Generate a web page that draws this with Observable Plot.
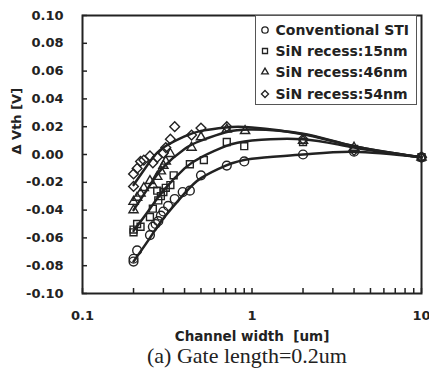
<!DOCTYPE html>
<html>
<head>
<meta charset="utf-8">
<script src="https://cdn.jsdelivr.net/npm/d3@7"></script>
<script src="https://cdn.jsdelivr.net/npm/@observablehq/plot@0.6"></script>
<style>
  body { margin: 0; background: #fff; }
  #wrap { position: relative; width: 429px; height: 372px; overflow: hidden; }
  #legend { position: absolute; left: 255px; top: 15px; width: 162px; height: 90px; box-sizing: border-box;
    border: 1.5px solid #555; background: #fff; padding-top: 3px;
    font: bold 14px "DejaVu Sans", sans-serif; color: #222; }
  .row { display: flex; align-items: center; height: 21.3px; white-space: nowrap; }
  .row svg { margin-left: 2.5px; margin-right: 5px; }
  #caption { position: absolute; left: 247px; top: 344px; transform: translateX(-50%);
    font: 22px "Liberation Serif", "Times New Roman", serif; line-height: 24px; color: #222; white-space: nowrap; }
</style>
</head>
<body>
<div id="wrap">
  <div id="chart"></div>
  <div id="legend"></div>
  <div id="caption">(a) Gate length=0.2um</div>
</div>
<script>
// Series names and their marker symbols
const seriesNames = ["Conventional STI", "SiN recess:15nm", "SiN recess:46nm", "SiN recess:54nm"];
const seriesSymbols = ["circle", "square2", "triangle2", "diamond2"];

// Axis titles
const xTitle = "Channel width\u00a0 [um]";
const yTitle = "\u0394 Vth [V]";

// Measured points (channel width in um, delta Vth in V)
const stiW = [0.2, 0.2, 0.21, 0.25, 0.26, 0.27, 0.28, 0.29, 0.3, 0.32, 0.35, 0.39, 0.43, 0.5, 0.71, 0.9, 2, 4, 10];
const stiV = [-0.077, -0.075, -0.069, -0.058, -0.052, -0.050, -0.048, -0.044, -0.041, -0.037, -0.032, -0.027, -0.026, -0.015, -0.008, -0.005, 0.000, 0.002, -0.002];

const sq15W = [0.2, 0.2, 0.21, 0.22, 0.25, 0.26, 0.276, 0.28, 0.29, 0.3, 0.31, 0.33, 0.345, 0.43, 0.52, 0.71, 0.9, 2, 4, 10];
const sq15V = [-0.056, -0.054, -0.050, -0.052, -0.045, -0.039, -0.026, -0.033, -0.030, -0.027, -0.024, -0.022, -0.015, -0.007, -0.004, 0.009, 0.006, 0.009, 0.004, -0.002];

const tri46W = [0.2, 0.2, 0.21, 0.22, 0.23, 0.25, 0.26, 0.276, 0.29, 0.3, 0.31, 0.33, 0.44, 0.5, 0.71, 0.91, 2, 4, 10];
const tri46V = [-0.040, -0.034, -0.031, -0.028, -0.024, -0.019, -0.022, -0.016, -0.012, -0.008, -0.005, 0.0005, 0.005, 0.0125, 0.018, 0.017, 0.010, 0.005, -0.002];

const dia54W = [0.2, 0.2, 0.21, 0.22, 0.23, 0.25, 0.26, 0.276, 0.3, 0.31, 0.33, 0.35, 0.44, 0.5, 0.71, 2, 4, 10];
const dia54V = [-0.023, -0.014, -0.010, -0.005, -0.004, -0.001, -0.006, -0.002, 0.001, 0.005, 0.011, 0.020, 0.014, 0.019, 0.020, 0.011, 0.003, -0.002];

// Fitted trend curves
const fitW = [0.2, 0.25, 0.3, 0.4, 0.5, 0.7, 1, 2, 4, 10];
const fitSti = [-0.077, -0.060, -0.046, -0.028, -0.017, -0.008, -0.003, 0.000, 0.002, -0.002];
const fit15 = [-0.055, -0.039, -0.026, -0.010, -0.002, 0.006, 0.010, 0.011, 0.005, -0.002];
const fit46 = [-0.040, -0.022, -0.009, 0.004, 0.010, 0.016, 0.018, 0.015, 0.006, -0.002];
const fit54 = [-0.022, -0.005, 0.005, 0.013, 0.017, 0.0195, 0.0195, 0.0145, 0.006, -0.002];

// Ticks
const xMajor = [0.1, 1, 10];
const xMinor = [0.2, 0.3, 0.4, 0.5, 0.6, 0.7, 0.8, 0.9, 2, 3, 4, 5, 6, 7, 8, 9];
const yTicks = [-0.10, -0.08, -0.06, -0.04, -0.02, 0, 0.02, 0.04, 0.06, 0.08, 0.10];

const pointSets = [[stiW, stiV], [sq15W, sq15V], [tri46W, tri46V], [dia54W, dia54V]];
const fitSets = [fitSti, fit15, fit46, fit54];

const ink = "#222";
const marks = [];
fitSets.forEach((vals) => {
  const data = fitW.map((w, i) => ({w, v: vals[i]}));
  marks.push(Plot.line(data, {x: "w", y: "v", curve: "natural", stroke: ink, strokeWidth: 2.5}));
});
pointSets.forEach(([W, V], s) => {
  const data = W.map((w, i) => ({w, v: V[i]}));
  marks.push(Plot.dot(data, {x: "w", y: "v", symbol: seriesSymbols[s], r: 4.4, stroke: ink, strokeWidth: 1.4, fill: "none"}));
});

const chart = Plot.plot({
  width: 429,
  height: 345,
  marginLeft: 82,
  marginRight: 8,
  marginTop: 15,
  marginBottom: 52,
  style: {fontFamily: "DejaVu Sans, sans-serif", fontWeight: "bold", fontSize: "13px", color: ink, background: "#fff"},
  x: {type: "log", domain: [0.1, 10]},
  y: {domain: [-0.1, 0.1]},
  marks: [
    ...marks,
    Plot.axisY({ticks: yTicks, tickSize: 0, tickPadding: 19, tickFormat: d => d.toFixed(2), label: null}),
    Plot.axisY({ticks: yTicks, tickSize: 5, dx: 5, tickFormat: () => "", label: null, strokeWidth: 1.5}),
    Plot.axisX({ticks: xMajor, tickSize: 0, tickPadding: 17, tickFormat: d => String(d), label: null}),
    Plot.axisX({ticks: xMajor.concat(xMinor), tickSize: 5, dy: -5, tickFormat: () => "", label: null, strokeWidth: 1.5}),
    Plot.text([xTitle], {text: d => d, frameAnchor: "bottom", lineAnchor: "middle", dy: 43, fontSize: 13.5, fontWeight: "bold", fill: ink}),
    Plot.text([yTitle], {text: d => d, frameAnchor: "left", dx: -66, rotate: -90, fontSize: 13, fontWeight: "bold", fill: ink}),
    Plot.frame({stroke: "#222", strokeWidth: 2})
  ]
});
document.getElementById("chart").appendChild(chart);

// Legend
const legend = d3.select("#legend");
const symMap = {circle: d3.symbolCircle, square2: d3.symbolSquare2, triangle2: d3.symbolTriangle2, diamond2: d3.symbolDiamond2};
seriesNames.forEach((name, i) => {
  const row = legend.append("div").attr("class", "row");
  const svg = row.append("svg").attr("width", 12).attr("height", 12);
  svg.append("path")
    .attr("transform", "translate(6,6)")
    .attr("d", d3.symbol(symMap[seriesSymbols[i]], 3.2 * 3.2 * Math.PI)())
    .attr("fill", "none").attr("stroke", ink).attr("stroke-width", 1.3);
  row.append("span").text(name);
});
</script>
</body>
</html>
